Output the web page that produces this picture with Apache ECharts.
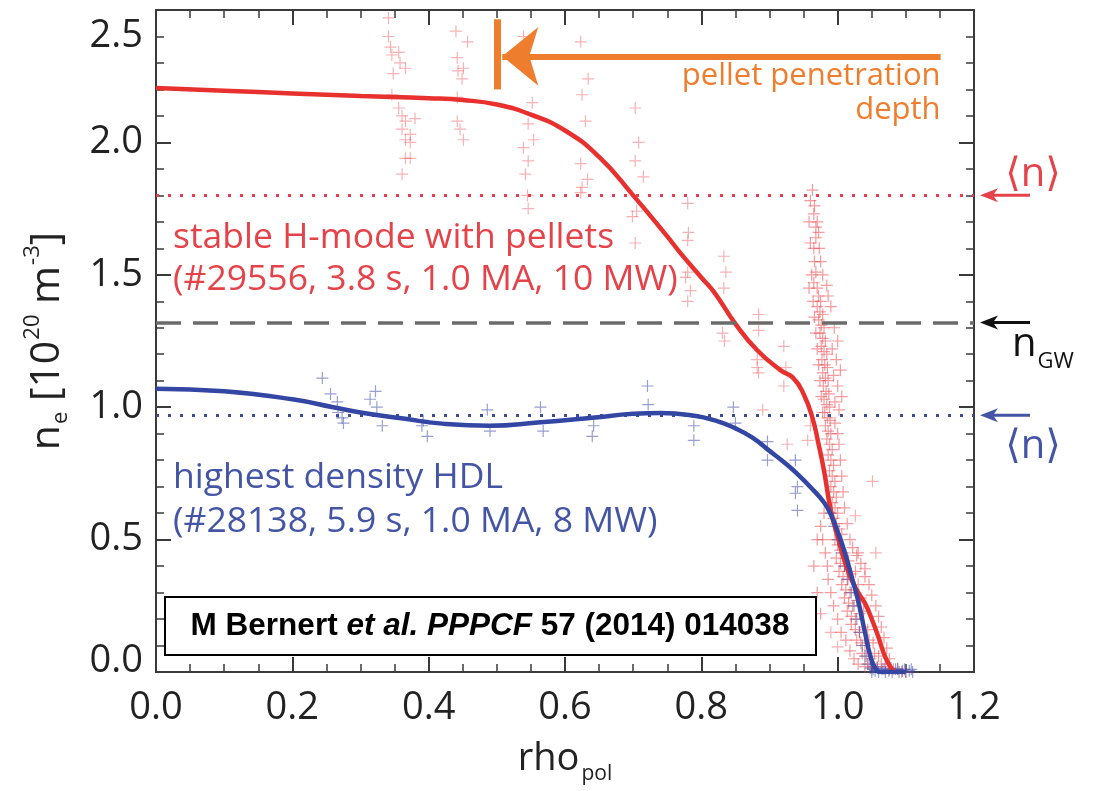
<!DOCTYPE html>
<html><head><meta charset="utf-8">
<script src="https://cdn.jsdelivr.net/npm/echarts@6/dist/echarts.min.js"></script>
<style>html,body{margin:0;padding:0;background:#fff}#c{width:1099px;height:791px}</style>
</head><body><div id="c"></div>
<script>
// ---------- data ----------
const xTickLabels = {0:'0.0',0.2:'0.2',0.4:'0.4',0.6:'0.6',0.8:'0.8',1:'1.0',1.2:'1.2'};
const yTickLabels = {0:'0.0',0.5:'0.5',1:'1.0',1.5:'1.5',2:'2.0',2.5:'2.5'};

// fitted profile, stable H-mode with pellets (#29556)
const redFit = [[0,2.205],[0.1,2.195],[0.2,2.185],[0.3,2.175],[0.4,2.167],[0.45,2.16],[0.5,2.143],[0.55,2.105],
 [0.6,2.045],[0.65,1.945],[0.7,1.80],[0.75,1.645],[0.77,1.58],[0.8,1.49],[0.82,1.43],[0.85,1.315],[0.882,1.215],
 [0.916,1.14],[0.935,1.11],[0.95,1.05],[0.963,0.96],[0.972,0.86],[0.98,0.76],[0.99,0.61],[1.0,0.51],[1.01,0.42],
 [1.02,0.35],[1.03,0.30],[1.04,0.26],[1.05,0.20],[1.06,0.13],[1.07,0.055],[1.08,0.01],[1.085,0]];
// fitted profile, highest density HDL (#28138)
const blueFit = [[0,1.07],[0.1,1.06],[0.2,1.03],[0.26,1.0],[0.3,0.98],[0.36,0.958],[0.42,0.938],[0.49,0.93],
 [0.56,0.942],[0.64,0.96],[0.7,0.975],[0.74,0.978],[0.79,0.968],[0.82,0.95],[0.85,0.92],[0.875,0.885],
 [0.9,0.835],[0.92,0.795],[0.94,0.75],[0.965,0.685],[0.98,0.64],[0.99,0.595],[1.0,0.53],[1.01,0.455],
 [1.02,0.365],[1.03,0.27],[1.04,0.15],[1.048,0.06],[1.055,0.015],[1.062,0],[1.1,0]];

const redPoints = [
 [0.341,2.47],[0.341,2.40],[0.344,2.36],[0.346,2.33],[0.356,2.34],[0.358,2.30],[0.366,2.28],[0.348,2.26],
 [0.346,2.18],[0.356,2.13],[0.361,2.10],[0.380,2.09],[0.366,2.08],[0.361,2.05],[0.373,2.03],[0.366,2.01],
 [0.373,2.00],[0.366,1.94],[0.373,1.94],[0.361,1.88],
 [0.440,2.42],[0.457,2.38],[0.442,2.32],[0.451,2.28],[0.443,2.27],[0.449,2.24],[0.442,2.17],[0.442,2.08],
 [0.446,2.05],[0.451,2.01],
 [0.539,2.40],[0.552,2.15],[0.546,2.07],[0.554,2.01],[0.539,1.98],[0.546,1.93],[0.542,1.88],[0.545,1.80],[0.546,1.75],
 [0.623,2.38],[0.634,2.24],[0.625,2.18],[0.630,2.08],[0.623,1.92],[0.633,1.86],[0.625,1.83],[0.623,1.81],
 [0.703,2.13],[0.708,2.00],[0.703,1.93],[0.715,1.87],[0.705,1.74],[0.699,1.72],[0.703,1.62],
 [0.780,1.77],[0.781,1.66],[0.780,1.63],[0.780,1.51],[0.777,1.49],[0.784,1.44],[0.780,1.40],
 [0.833,1.57],[0.836,1.51],[0.833,1.45],[0.831,1.28],[0.834,1.25],
 [0.884,1.35],[0.884,1.29],[0.882,1.18],[0.884,1.13],[0.882,1.15],
 [0.921,1.23],[0.924,1.15],[0.921,1.08],
 [0.89,0.99],[0.926,0.86],[0.956,0.875],[0.96,0.93],[1.051,0.72],[1.026,0.59],[1.056,0.45],[0.99,0.15],[1.0,0.095]
];
const redStripPoints = [
 [0.963,1.82],[0.966,1.76],[0.965,1.73],[0.968,1.68],[0.968,1.64],[0.965,1.60],[0.966,1.55],[0.968,1.51],
 [0.965,1.47],[0.970,1.45],[0.972,1.42],[0.975,1.40],[0.970,1.38],[0.974,1.36],[0.978,1.35],[0.972,1.33],
 [0.976,1.31],[0.980,1.30],[0.974,1.28],[0.978,1.26],[0.982,1.25],[0.976,1.23],[0.980,1.21],[0.984,1.20],
 [0.977,1.18],[0.981,1.16],[0.985,1.15],[0.978,1.13],[0.982,1.11],[0.986,1.10],[0.979,1.08],[0.983,1.06],
 [0.987,1.05],[0.980,1.03],[0.984,1.01],[0.988,1.00],[0.981,0.98],[0.985,0.96],[0.989,0.95],[0.982,0.93],
 [0.986,0.91],[0.990,0.90],[0.984,0.88],[0.988,0.86],[0.992,0.84],[0.986,0.82],[0.990,0.80],[0.994,0.78],
 [0.988,0.76],[0.992,0.74],[0.996,0.72],[0.990,0.70],[0.994,0.68],[0.998,0.66],[0.992,0.64],[0.996,0.62],
 [1.000,0.60],[0.994,0.58],[0.998,0.56],[1.002,0.54],[1.006,0.52],[0.996,0.50],[1.000,0.48],[1.004,0.46],
 [1.010,0.45],[0.998,0.43],[1.004,0.41],[1.010,0.40],[1.016,0.42],[1.002,0.38],[1.008,0.36],[1.014,0.35],
 [1.020,0.37],[1.026,0.38],[1.006,0.33],[1.012,0.31],[1.018,0.30],[1.024,0.31],[1.030,0.33],[1.010,0.28],
 [1.016,0.26],[1.022,0.25],[1.028,0.27],[1.034,0.28],[1.014,0.23],[1.020,0.21],[1.026,0.20],[1.032,0.22],
 [1.038,0.23],[1.020,0.18],[1.026,0.16],[1.032,0.15],[1.038,0.17],[1.044,0.16],[1.028,0.12],[1.034,0.11],
 [1.040,0.10],[1.046,0.12],[1.052,0.11],[1.036,0.07],[1.042,0.06],[1.048,0.05],[1.054,0.07],[1.060,0.06],
 [1.046,0.03],[1.052,0.02],[1.058,0.02],[1.064,0.03],[1.070,0.02],[1.076,0.01],[1.082,0.01],[1.088,0.01],
 [1.094,0.0],[1.100,0.0],[0.975,0.55],[0.985,0.40],[0.97,0.30],[0.975,0.22],[1.03,0.45],[1.04,0.36],
 [0.995,1.30],[1.000,1.25],[0.992,1.22],[0.998,1.18],[1.004,1.14],[0.994,1.12],[1.000,1.08],[1.006,1.04],
 [0.996,1.02],[1.002,0.99],[0.990,1.38],[0.986,1.42],[0.984,1.46],[0.978,1.50],[0.975,1.55],[0.973,1.60],
 [0.972,1.66],[0.970,1.70],[0.960,1.78],[0.958,1.70],[0.960,1.62],[0.962,1.50],[0.958,1.45],[0.964,1.40],
 [0.966,1.34],[0.968,1.28],[0.970,1.22],[0.972,1.16],[0.974,1.10],[0.976,1.04],[0.978,0.98],[0.996,0.94],
 [1.000,0.90],[1.002,0.86],[1.004,0.80],[1.006,0.74],[1.008,0.68],[1.010,0.62],[1.014,0.56],[1.018,0.50],
 [1.022,0.47],[1.028,0.44],[1.034,0.41],[1.040,0.39],[1.046,0.33],[1.050,0.29],[1.056,0.25],[1.060,0.21],
 [1.064,0.17],[1.068,0.13],[1.072,0.09],[1.076,0.05],[0.980,0.60],[0.978,0.50],[0.982,0.45],[0.986,0.35],
 [0.990,0.30],[0.994,0.25],[1.0,0.20],[1.005,0.15],[1.012,0.12],[1.018,0.08],[1.024,0.05],[1.03,0.03],
 [1.04,0.02],[0.97,0.50],[0.965,0.40]
];
const bluePoints = [
 [0.244,1.11],[0.256,1.05],[0.266,1.02],[0.273,0.96],[0.275,0.94],[0.267,0.98],[0.322,1.06],[0.314,1.03],
 [0.324,1.00],[0.332,0.93],[0.392,0.95],[0.398,0.89],[0.390,0.93],[0.486,0.99],[0.490,0.91],[0.564,1.00],
 [0.568,0.91],[0.642,0.93],[0.640,0.89],[0.721,1.08],[0.722,1.01],[0.789,0.93],[0.789,0.875],[0.847,1.00],
 [0.850,0.94],[0.897,0.87],[0.897,0.80],[0.938,0.80],[0.941,0.70],[0.938,0.675],[0.941,0.61],
 [0.99,0.60],[0.995,0.55],[1.0,0.50],[1.006,0.45],[1.01,0.40],[1.015,0.35],[1.02,0.30],[1.024,0.25],
 [1.028,0.20],[1.032,0.15],[1.036,0.10],[1.04,0.06],[1.044,0.03],[1.048,0.015],
 [1.05,0.0],[1.055,0.005],[1.06,0.0],[1.065,0.01],[1.07,0.0],[1.075,0.005],[1.08,0.0],[1.085,0.01],
 [1.09,0.0],[1.095,0.005],[1.1,0.0],[1.105,0.005],[1.11,0.0],[1.052,0.01],[1.058,0.015],[1.068,0.012],
 [1.078,0.015],[1.088,0.012],[1.098,0.01],[1.108,0.01]
];

const redMean = 1.8, greenwald = 1.32, blueMean = 0.97;
const pelletDepth = 0.5, pelletArrowY = 2.325, pelletArrowStart = 1.151, pelletArrowTip = 0.508;

// ---------- chart ----------
const FONT = "'Open Sans', 'DejaVu Sans', sans-serif";
const plus = 'path://M0,4.5H4.5V0H5.5V4.5H10V5.5H5.5V10H4.5V5.5H0Z';
const AX = '#3a3a3a';
function axisBase(minorSplit){
  return {
    axisLine:{show:true,onZero:false,lineStyle:{color:AX,width:2}},
    axisTick:{show:true,inside:true,length:15,lineStyle:{color:AX,width:2}},
    minorTick:{show:true,splitNumber:minorSplit,length:8,lineStyle:{color:AX,width:1.5}},
    splitLine:{show:false}, minorSplitLine:{show:false}
  };
}
const chart = echarts.init(document.getElementById('c'), null, {renderer:'canvas'});
const xBase = {type:'value', min:0, max:1.2, interval:0.2};
const yBase = {type:'value', min:0, max:2.5, interval:0.5};
const LBL = {fontSize:38,color:'#222',fontFamily:FONT};
chart.setOption({
  animation:false,
  backgroundColor:'#fff',
  grid:{left:156,right:125,top:10,bottom:119,containLabel:false},
  xAxis:[
    Object.assign({}, xBase, axisBase(4), {position:'bottom',
      axisLabel:Object.assign({margin:17,formatter:v=>xTickLabels[v]}, LBL),
      name:'{m|rho}{s|pol}', nameLocation:'middle', nameGap:62,
      nameTextStyle:{rich:{m:{fontSize:38,color:'#222',fontFamily:FONT},
        s:{fontSize:21,color:'#222',fontFamily:FONT,padding:[30,0,0,2]}}}}),
    Object.assign({}, xBase, axisBase(4), {position:'top',axisLabel:{show:false}})
  ],
  yAxis:[
    Object.assign({}, yBase, axisBase(5), {position:'left',
      axisLabel:Object.assign({margin:13,
        formatter:v=> v===2.5 ? '{t|'+yTickLabels[v]+'}' : (v===0 ? '{b|'+yTickLabels[v]+'}' : yTickLabels[v]),
        rich:{t:Object.assign({padding:[52,0,0,0]},LBL), b:Object.assign({padding:[0,0,22,0]},LBL)}}, LBL),
      name:'{m|n}{s|e}{m| [10}{p|20}{m| m}{p|-3}{m|]}', nameLocation:'middle', nameGap:84,
      nameTextStyle:{rich:{m:{fontSize:41,color:'#222',fontFamily:FONT},
        s:{fontSize:22,color:'#222',fontFamily:FONT,padding:[28,0,0,1]},
        p:{fontSize:22,color:'#222',fontFamily:FONT,padding:[0,0,28,1]}}}}),
    Object.assign({}, yBase, axisBase(5), {position:'right',axisLabel:{show:false}})
  ],
  series:[
    {type:'scatter', name:'pellet data', data:redPoints, symbol:plus, symbolSize:12, silent:true,
     itemStyle:{color:'rgba(238,80,85,0.55)'}, z:2},
    {type:'scatter', name:'pellet data edge', data:redStripPoints, symbol:plus, symbolSize:12, silent:true,
     itemStyle:{color:'rgba(240,80,85,0.72)'}, z:2},
    {type:'line', name:'pellet fit', data:redFit, smooth:0.5, showSymbol:false, silent:true,
     lineStyle:{color:'#e8302e',width:4.5}, z:4,
     markLine:{silent:true, symbol:['none','none'], label:{show:false}, animation:false,
       data:[
         [{coord:[0,redMean],lineStyle:{color:'#e2404c',width:3,type:[3,9]}},{coord:[1.2,redMean]}],
         [{coord:[0,greenwald],lineStyle:{color:'#6b6b6b',width:3.5,type:[25,12]}},{coord:[1.2,greenwald]}],
         [{coord:[pelletDepth,2.2],lineStyle:{color:'#ef7d2e',width:7,type:'solid'}},{coord:[pelletDepth,2.465]}],
         [{coord:[pelletArrowStart,pelletArrowY],lineStyle:{color:'#ef7d2e',width:6,type:'solid'}},
          {coord:[pelletArrowTip,pelletArrowY],symbol:'arrow',symbolSize:[44,36]}]
       ]}},
    {type:'scatter', name:'HDL data', data:bluePoints, symbol:plus, symbolSize:12, silent:true,
     itemStyle:{color:'rgba(65,80,170,0.68)'}, z:3},
    {type:'line', name:'HDL fit', data:blueFit, smooth:0.5, showSymbol:false, silent:true,
     lineStyle:{color:'#3346a3',width:4.5}, z:5,
     markLine:{silent:true, symbol:['none','none'], label:{show:false}, animation:false,
       data:[[{coord:[0,blueMean],lineStyle:{color:'#3c4c9c',width:3,type:[3,9]}},{coord:[1.2,blueMean]}]]}}
  ]
});

// ---------- annotations ----------
const px = (x,y)=>chart.convertToPixel({xAxisIndex:0,yAxisIndex:0},[x,y]);
const rightEdge = px(1.2,0)[0];
function sideArrow(y, color){
  const yy = px(0,y)[1];
  const x0 = rightEdge + 6, x1 = rightEdge + 56;
  return [
    {type:'line',shape:{x1:x0+12,y1:yy,x2:x1,y2:yy},style:{stroke:color,lineWidth:3}},
    {type:'polygon',shape:{points:[[x0,yy],[x0+18,yy-7],[x0+13,yy],[x0+18,yy+7]]},style:{fill:color}}
  ];
}
const redC = '#e5434a', blueC = '#4455a6', orangeC = '#ef7d2e';
const tH = px(0.025,1.638), tH2 = px(0.025,1.479), tB = px(0.025,0.732), tB2 = px(0.025,0.566);
const tP = px(1.151,2.249), tP2 = px(1.151,2.12);
const yR = px(0,redMean)[1], yG = px(0,greenwald)[1], yB = px(0,blueMean)[1];
const g = [];
g.push(...sideArrow(redMean, redC), ...sideArrow(greenwald, '#111'), ...sideArrow(blueMean, blueC));
g.push(
  {type:'text',x:rightEdge+59,y:yR-21,style:{text:'\u27E8n\u27E9',fill:redC,font:"40px 'Open Sans', 'DejaVu Sans'",align:'center',verticalAlign:'middle'}},
  {type:'text',x:rightEdge+59,y:yB+31,style:{text:'\u27E8n\u27E9',fill:blueC,font:"40px 'Open Sans', 'DejaVu Sans'",align:'center',verticalAlign:'middle'}},
  {type:'text',x:rightEdge+38,y:yG+22,style:{text:'{n|n}{s|GW}',align:'left',verticalAlign:'middle',
     rich:{n:{fontSize:40,fill:'#111',fontFamily:FONT},s:{fontSize:22,fill:'#111',fontFamily:FONT,padding:[34,0,0,1]}}}},
  {type:'text',x:tH[0],y:tH[1],style:{text:'stable H-mode with pellets',fill:redC,font:"35.5px 'Open Sans'",align:'left',verticalAlign:'middle'}},
  {type:'text',x:tH2[0],y:tH2[1],style:{text:'(#29556, 3.8 s, 1.0 MA, 10 MW)',fill:redC,font:"35.5px 'Open Sans'",align:'left',verticalAlign:'middle'}},
  {type:'text',x:tB[0],y:tB[1],style:{text:'highest density HDL',fill:blueC,font:"35.5px 'Open Sans'",align:'left',verticalAlign:'middle'}},
  {type:'text',x:tB2[0],y:tB2[1],style:{text:'(#28138, 5.9 s, 1.0 MA, 8 MW)',fill:blueC,font:"35.5px 'Open Sans'",align:'left',verticalAlign:'middle'}},
  {type:'text',x:tP[0],y:tP[1],style:{text:'pellet penetration',fill:orangeC,font:"31px 'Open Sans'",align:'right',verticalAlign:'middle'}},
  {type:'text',x:tP2[0],y:tP2[1],style:{text:'depth',fill:orangeC,font:"31px 'Open Sans'",align:'right',verticalAlign:'middle'}},
  {type:'rect',shape:{x:165,y:597,width:651,height:58},style:{fill:'#fff',stroke:'#000',lineWidth:2},z:100},
  {type:'text',x:490,y:626,z:101,style:{text:'{b|M Bernert }{i|et al. PPPCF}{b| 57 (2014) 014038}',align:'center',verticalAlign:'middle',
     rich:{b:{fontSize:31.5,fontWeight:'bold',fontFamily:"'Liberation Sans', Arial, sans-serif",fill:'#000'},
           i:{fontSize:31.5,fontWeight:'bold',fontStyle:'italic',fontFamily:"'Liberation Sans', Arial, sans-serif",fill:'#000'}}}}
);
chart.setOption({graphic:g});
</script></body></html>
